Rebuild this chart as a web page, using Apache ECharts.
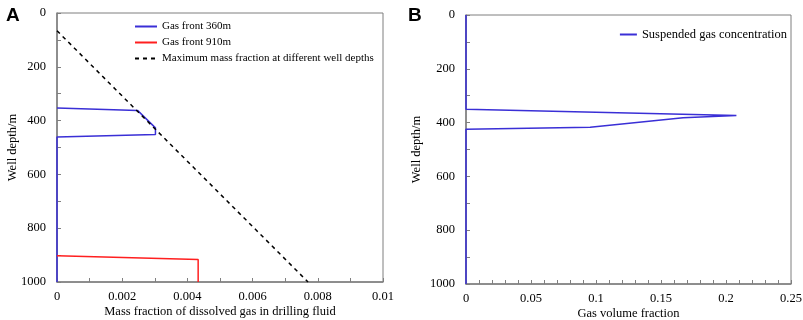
<!DOCTYPE html>
<html>
<head>
<meta charset="utf-8">
<script src="https://cdn.jsdelivr.net/npm/echarts@6/dist/echarts.min.js"></script>
<style>
  html, body { margin: 0; padding: 0; background: #fff; }
  #chart { width: 803px; height: 320px; }
</style>
</head>
<body>
<div id="chart"></div>
<script>
// panel A: dissolved gas mass fraction vs depth
const depth360 = [353, 362, 427, 452, 461, 1000];
const frac360 = [0, 0.00247, 0.00302, 0.00302, 0, 0];
const depth910 = [902, 916, 1000];
const frac910 = [0, 0.00433, 0.00433];
const depthMax = [66, 1000];
const fracMax = [0, 0.0077];
// panel B: suspended gas volume fraction vs depth
const depthB = [0, 350, 374, 382, 417, 425, 1000];
const gasB = [0, 0, 0.208, 0.167, 0.0955, 0, 0];

const pairs = (xs, ys) => xs.map((x, i) => [x, ys[i]]);

const font = 'Liberation Serif';
const axisGray = '#7f7f7f';

function yAxisOpt(gridIndex, gap) {
  return {
    type: 'value', gridIndex, inverse: true, min: 0, max: 1000, interval: 200,
    name: 'Well depth/m', nameLocation: 'middle', nameGap: gap, nameMoveOverlap: false,
    nameTextStyle: { fontFamily: font, fontSize: 12.5, color: '#000' },
    axisLine: { show: true, lineStyle: { color: axisGray, width: 1.5 } },
    axisTick: { inside: true, length: 4, lineStyle: { color: axisGray } },
    minorTick: { show: true, splitNumber: 2, length: 4, lineStyle: { color: axisGray } },
    axisLabel: { fontFamily: font, fontSize: 12.5, color: '#000', margin: 11, formatter: v => String(v) },
    splitLine: { show: false }
  };
}

function xAxisOpt(gridIndex, max, interval, split, name) {
  return {
    type: 'value', gridIndex, min: 0, max, interval,
    name, nameLocation: 'middle', nameGap: 23, nameMoveOverlap: false,
    nameTextStyle: { fontFamily: font, fontSize: 12.5, color: '#000' },
    axisLine: { show: true, onZero: false, lineStyle: { color: axisGray, width: 1.5 } },
    axisTick: { inside: true, length: 4, lineStyle: { color: axisGray } },
    minorTick: { show: true, splitNumber: split, length: 4, lineStyle: { color: axisGray } },
    axisLabel: { fontFamily: font, fontSize: 12.5, color: '#000', margin: 8 },
    splitLine: { show: false }
  };
}

const chart = echarts.init(document.getElementById('chart'));
chart.setOption({
  animation: false,
  title: [
    { text: 'A', left: 1, top: 1, textStyle: { fontFamily: 'Liberation Sans', fontWeight: 'bold', fontSize: 19, color: '#000' } },
    { text: 'B', left: 403, top: 1, textStyle: { fontFamily: 'Liberation Sans', fontWeight: 'bold', fontSize: 19, color: '#000' } }
  ],
  grid: [
    { left: 57, right: 420, top: 13, bottom: 38, show: true, borderColor: axisGray, borderWidth: 1, containLabel: false, outerBoundsMode: 'none' },
    { left: 466, right: 12, top: 15, bottom: 36, show: true, borderColor: axisGray, borderWidth: 1, containLabel: false, outerBoundsMode: 'none' }
  ],
  legend: [
    {
      data: ['Gas front 360m', 'Gas front 910m', 'Maximum mass fraction at different well depths'],
      orient: 'vertical', left: 134, top: 21, padding: 0,
      itemWidth: 22, itemHeight: 10, itemGap: 5,
      itemStyle: { opacity: 0 },
      textStyle: { fontFamily: font, fontSize: 11, color: '#000', lineHeight: 11 }
    },
    {
      data: ['Suspended gas concentration'],
      orient: 'vertical', right: 16, top: 28, padding: 0,
      itemWidth: 17, itemHeight: 10,
      itemStyle: { opacity: 0 },
      textStyle: { fontFamily: font, fontSize: 12.5, color: '#000' }
    }
  ],
  xAxis: [
    xAxisOpt(0, 0.01, 0.002, 2, 'Mass fraction of dissolved gas in drilling fluid'),
    xAxisOpt(1, 0.25, 0.05, 5, 'Gas volume fraction')
  ],
  yAxis: [yAxisOpt(0, 38), yAxisOpt(1, 43)],
  series: [
    {
      name: 'Gas front 360m', type: 'line', xAxisIndex: 0, yAxisIndex: 0,
      data: pairs(frac360, depth360), symbol: 'none', color: '#3a2fd6',
      lineStyle: { width: 1.5, color: '#3a2fd6' }
    },
    {
      name: 'Gas front 910m', type: 'line', xAxisIndex: 0, yAxisIndex: 0,
      data: pairs(frac910, depth910), symbol: 'none', color: '#ff1f1f',
      lineStyle: { width: 1.5, color: '#ff1f1f' }
    },
    {
      name: 'Maximum mass fraction at different well depths', type: 'line', xAxisIndex: 0, yAxisIndex: 0,
      data: pairs(fracMax, depthMax), symbol: 'none', color: '#000',
      lineStyle: { width: 1.5, color: '#000', type: [4, 4] }
    },
    {
      name: 'Suspended gas concentration', type: 'line', xAxisIndex: 1, yAxisIndex: 1,
      data: pairs(gasB, depthB), symbol: 'none', color: '#3a2fd6',
      lineStyle: { width: 1.5, color: '#3a2fd6' }
    }
  ]
});
</script>
</body>
</html>
